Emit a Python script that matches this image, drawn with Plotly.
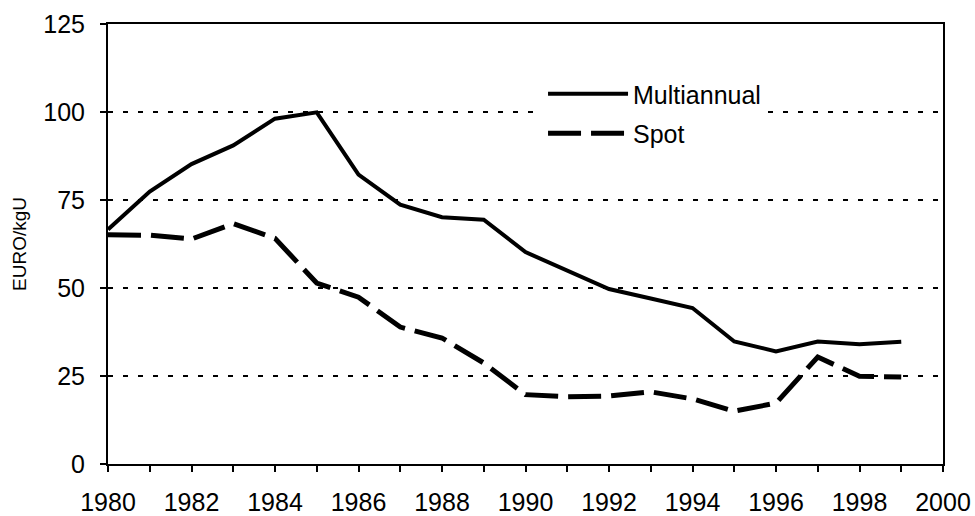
import plotly.graph_objects as go

years = list(range(1980, 2000))
multiannual = [66.6, 77.4, 85.2, 90.5, 98.1, 99.9, 82.2, 73.7, 70.1, 69.4,
               60.2, 55.0, 49.7, 47.0, 44.3, 34.8, 32.0, 34.8, 34.0, 34.7]
spot = [65.1, 65.0, 63.9, 68.3, 64.1, 51.4, 47.4, 38.9, 35.8, 28.7,
        19.7, 19.1, 19.3, 20.5, 18.5, 15.0, 17.3, 30.4, 24.9, 24.7]
series_names = ["Multiannual", "Spot"]
y_title = "EURO/kgU"

FONT = "Liberation Sans, Arial, sans-serif"

fig = go.Figure()
fig.add_trace(go.Scatter(x=years, y=multiannual, mode="lines", name=series_names[0],
                         line=dict(color="black", width=4), legendgroup="a"))
fig.add_trace(go.Scatter(x=years, y=spot, mode="lines", name=series_names[1],
                         line=dict(color="black", width=5, dash="33px,10px"), legendgroup="b"))

fig.update_layout(
    width=975, height=516,
    margin=dict(l=108, r=32, t=24, b=52),
    paper_bgcolor="white", plot_bgcolor="white",
    font=dict(family=FONT, color="black", size=25),
    showlegend=True,
    legend=dict(x=0.521, y=0.893, xanchor="left", yanchor="top",
                bgcolor="white", borderwidth=0, font=dict(size=25),
                tracegroupgap=4, itemwidth=80),
    xaxis=dict(range=[1980, 2000], dtick=2, tick0=1980, ticks="outside", ticklen=6,
               tickwidth=2, tickcolor="black", showline=True, linecolor="black",
               linewidth=2, mirror=True, showgrid=False, zeroline=False, automargin=False,
               minor=dict(dtick=1, ticks="outside", ticklen=6, tickwidth=2, tickcolor="black"),
               tickfont=dict(size=25), ticklabelstandoff=9),
    yaxis=dict(range=[0, 125], dtick=25, ticks="outside", ticklen=6, tickwidth=2,
               tickcolor="black", showline=True, linecolor="black", linewidth=2,
               mirror=True, showgrid=True, gridcolor="black", gridwidth=2,
               griddash="5px,10px", zeroline=False, tickfont=dict(size=25),
               automargin=False, ticklabelstandoff=10,
               title=dict(text=y_title, font=dict(size=19), standoff=12)),
)

fig.write_html("out.html", config={"displayModeBar": False},
               post_script="document.body.style.margin='0';document.body.style.overflow='hidden';")
